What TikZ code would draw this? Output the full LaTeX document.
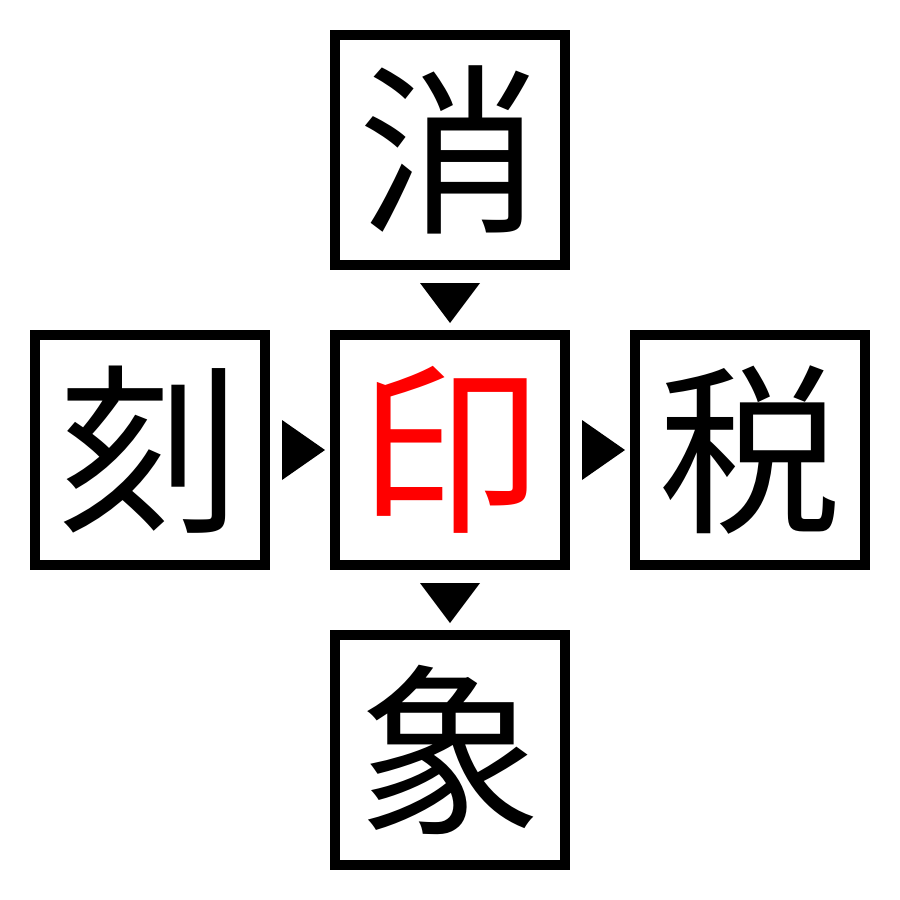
\documentclass[tikz,border=0pt]{standalone}
\usepackage{fontspec}
\newfontfamily\cjk{Noto Sans CJK JP}
\definecolor{pred}{RGB}{255,0,0}
\begin{document}
\begin{tikzpicture}[x=0.01cm,y=-0.01cm,
  kbox/.style={draw=black,line width=0.1cm,minimum size=2.3cm,inner sep=0pt,font=\cjk\fontsize{52}{52}\selectfont,anchor=center},
  tri/.style={fill=black,draw=none}]
\useasboundingbox (0,0) rectangle (900,900);
\node[kbox] (top) at (450,150) {消};
\node[kbox,text=pred] (mid) at (450,450) {印};
\node[kbox] (left) at (150,450) {刻};
\node[kbox] (right) at (750,450) {税};
\node[kbox] (bot) at (450,750) {象};
\coordinate (t1) at (450,303);
\coordinate (t2) at (303,450);
\coordinate (t3) at (603,450);
\coordinate (t4) at (450,603);
\fill[tri] ([shift={(-30,-20)}]t1) -- ([shift={(30,-20)}]t1) -- ([shift={(0,20)}]t1) -- cycle;
\fill[tri] ([shift={(-21,-30)}]t2) -- ([shift={(-21,30)}]t2) -- ([shift={(22,0)}]t2) -- cycle;
\fill[tri] ([shift={(-21,-30)}]t3) -- ([shift={(-21,30)}]t3) -- ([shift={(22,0)}]t3) -- cycle;
\fill[tri] ([shift={(-30,-20)}]t4) -- ([shift={(30,-20)}]t4) -- ([shift={(0,20)}]t4) -- cycle;
\end{tikzpicture}
\end{document}
